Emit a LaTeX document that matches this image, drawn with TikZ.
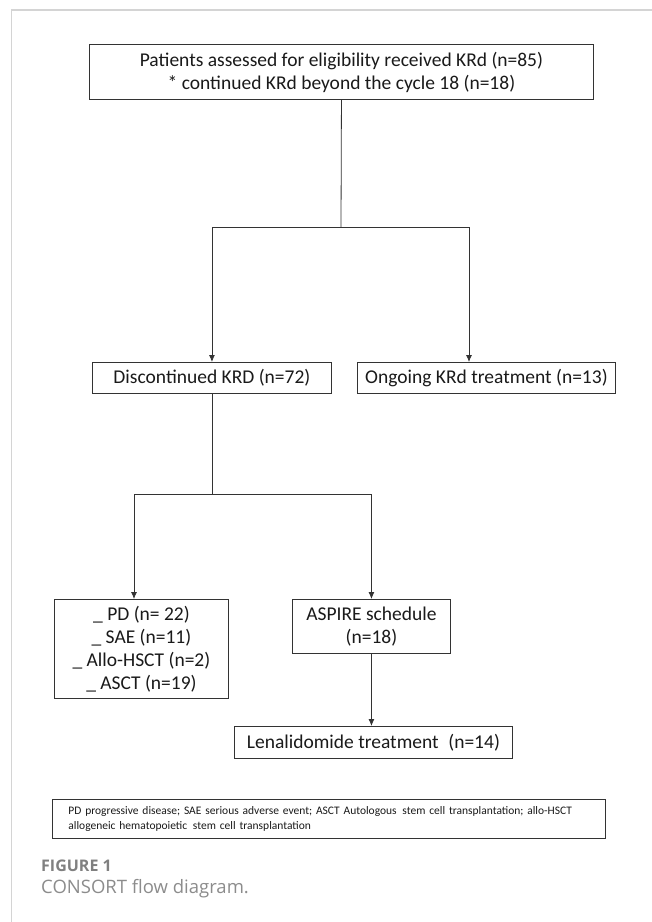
\documentclass[tikz,border=0pt]{standalone}
\usepackage{fontspec}
\setmainfont{Carlito}
\newfontfamily\capfont{Open Sans}
\usepackage{tikz}
\usetikzlibrary{arrows.meta, positioning, calc}
\definecolor{frameGray}{HTML}{D4D4D4}
\definecolor{boxLine}{HTML}{333333}
\definecolor{linkLine}{HTML}{333333}
\definecolor{textMain}{HTML}{1A1A1A}
\definecolor{captionGray}{HTML}{808080}
\definecolor{captionLight}{HTML}{8C8C8C}

\tikzset{
  flowBox/.style={draw=boxLine, line width=0.9pt, fill=white, align=center, inner sep=0pt,
                  anchor=north west, text=textMain, font=\fontsize{19.5}{23}\selectfont},
  noteBox/.style={draw=boxLine, line width=0.9pt, fill=white, align=left, inner sep=0pt,
                  anchor=north west, text=textMain, font=\fontsize{11.5}{15}\selectfont},
  flowLink/.style={draw=linkLine, line width=0.8pt},
  flowArrow/.style={flowLink, -{Latex[length=7pt, width=6pt]}},
}

\begin{document}
\begin{tikzpicture}[x=1pt, y=-1pt]
  \useasboundingbox (0,0) rectangle (652,922);
  \fill[white] (0,0) rectangle (652,922);
  % page frame
  \draw[frameGray, line width=1.3pt] (11.5,922) -- (11.5,10) -- (652,10);

  % boxes
  \node[flowBox, minimum width=504pt, minimum height=55pt] (topBox) at (89,44)
    {Patients assessed for eligibility received KRd (n=85)\\* continued KRd beyond the cycle 18 (n=18)};
  \node[flowBox, minimum width=239pt, minimum height=31pt] (discBox) at (92,362)
    {Discontinued KRD (n=72)};
  \node[flowBox, minimum width=258pt, minimum height=31pt] (ongBox) at (357,362)
    {Ongoing KRd treatment (n=13)};
  \node[flowBox, minimum width=174pt, minimum height=99pt] (pdBox) at (54,599)
    {\_ PD (n= 22)\\\_ SAE (n=11)\\\_ Allo-HSCT (n=2)\\\_ ASCT (n=19)};
  \node[flowBox, minimum width=158pt, minimum height=54pt] (aspBox) at (292,599)
    {ASPIRE schedule\\(n=18)};
  \node[flowBox, minimum width=278pt, minimum height=32pt] (lenBox) at (234,726)
    {Lenalidomide treatment\enspace(n=14)};
  \node[noteBox, minimum width=553pt, minimum height=39pt, text width=537pt] (noteBox) at (52,799)
    {\hspace*{8pt}PD progressive disease; SAE serious adverse event; ASCT Autologous\enspace stem cell transplantation; allo-HSCT\\
     \hspace*{8pt}allogeneic hematopoietic\enspace stem cell transplantation};

  % connectors
  \coordinate (splitTop) at (341,227);
  \coordinate (ongDrop) at (469,227);
  \coordinate (midLevel) at (0,494);
  \coordinate (pdDrop) at (134,494);
  \coordinate (aspDrop) at (aspBox.north |- midLevel);

  \draw[flowLink] (topBox.south) -- (splitTop);
  \draw[flowArrow] (splitTop) -| (discBox.north);
  \draw[flowArrow] (splitTop) -- (ongDrop) -- (ongDrop |- ongBox.north);
  \draw[flowLink] (discBox.south) -- (discBox.south |- midLevel);
  \draw[flowArrow] (discBox.south |- midLevel) -- (pdDrop) -- (pdDrop |- pdBox.north);
  \draw[flowArrow] (discBox.south |- midLevel) -- (aspDrop) -- (aspBox.north);
  \draw[flowArrow] (aspBox.south) -- (aspBox.south |- lenBox.north);

  % caption
  \node[anchor=west, inner sep=0pt, text=captionGray, font=\capfont\bfseries\fontsize{16}{18}\selectfont] (figLabel) at (41,866) {FIGURE 1};
  \node[anchor=west, inner sep=0pt, text=captionLight, font=\capfont\fontsize{18.5}{21}\selectfont] (figTitle) at (41,889) {CONSORT flow diagram.};
\end{tikzpicture}
\end{document}
